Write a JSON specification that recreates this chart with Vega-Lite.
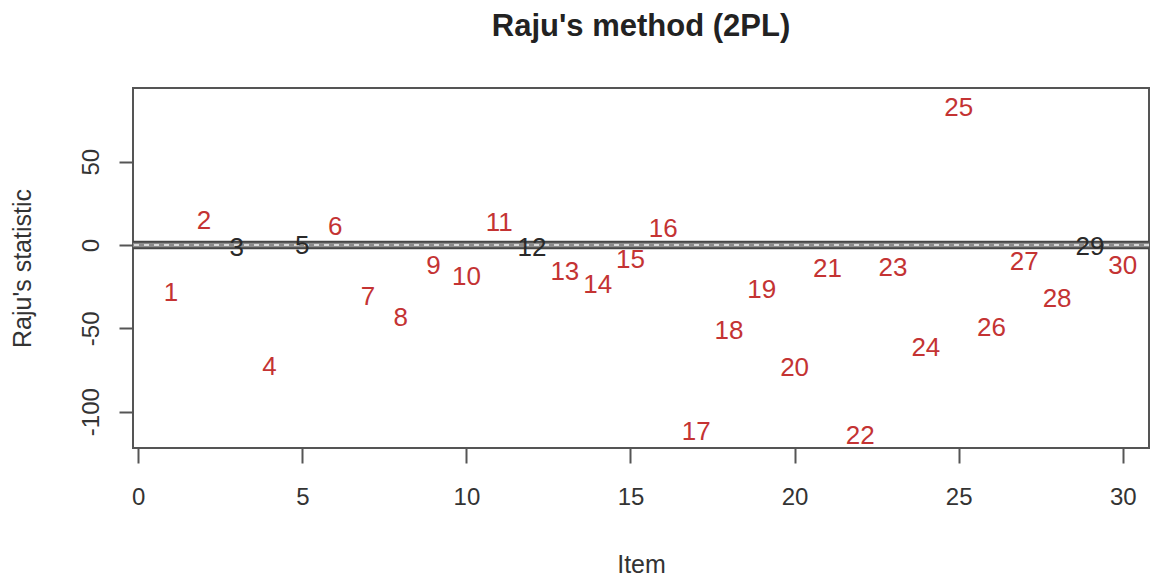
{
  "$schema": "https://vega.github.io/schema/vega-lite/v6.json",
  "autosize": {"type": "none"},
  "width": 1016,
  "height": 360,
  "padding": {"left": 133, "top": 88, "right": 1, "bottom": 128},
  "background": "white",
  "title": {
    "text": "Raju's method (2PL)",
    "font": "Liberation Sans",
    "fontSize": 31,
    "fontWeight": "bold",
    "color": "#222",
    "anchor": "middle",
    "baseline": "alphabetic",
    "offset": 21
  },
  "config": {
    "view": {"stroke": "#555", "strokeWidth": 2},
    "font": "Liberation Sans",
    "axis": {
      "grid": false,
      "domain": false,
      "tickColor": "#555",
      "tickWidth": 2,
      "labelFont": "Liberation Sans",
      "labelFontSize": 24,
      "labelColor": "#333",
      "titleFont": "Liberation Sans",
      "titleFontSize": 25,
      "titleFontWeight": "normal",
      "titleColor": "#333"
    }
  },
  "datasets": {
    "items": [
      {"item": 1, "stat": -28.8, "flag": "DIF"},
      {"item": 2, "stat": 14.4, "flag": "DIF"},
      {"item": 3, "stat": -1.8, "flag": "noDIF"},
      {"item": 4, "stat": -73.2, "flag": "DIF"},
      {"item": 5, "stat": -0.6, "flag": "noDIF"},
      {"item": 6, "stat": 10.8, "flag": "DIF"},
      {"item": 7, "stat": -31.2, "flag": "DIF"},
      {"item": 8, "stat": -43.8, "flag": "DIF"},
      {"item": 9, "stat": -12.6, "flag": "DIF"},
      {"item": 10, "stat": -19.2, "flag": "DIF"},
      {"item": 11, "stat": 13.2, "flag": "DIF"},
      {"item": 12, "stat": -1.8, "flag": "noDIF"},
      {"item": 13, "stat": -16.2, "flag": "DIF"},
      {"item": 14, "stat": -24.0, "flag": "DIF"},
      {"item": 15, "stat": -9.0, "flag": "DIF"},
      {"item": 16, "stat": 9.6, "flag": "DIF"},
      {"item": 17, "stat": -112.2, "flag": "DIF"},
      {"item": 18, "stat": -51.6, "flag": "DIF"},
      {"item": 19, "stat": -27.0, "flag": "DIF"},
      {"item": 20, "stat": -73.8, "flag": "DIF"},
      {"item": 21, "stat": -14.4, "flag": "DIF"},
      {"item": 22, "stat": -114.6, "flag": "DIF"},
      {"item": 23, "stat": -13.8, "flag": "DIF"},
      {"item": 24, "stat": -61.8, "flag": "DIF"},
      {"item": 25, "stat": 82.2, "flag": "DIF"},
      {"item": 26, "stat": -49.8, "flag": "DIF"},
      {"item": 27, "stat": -10.2, "flag": "DIF"},
      {"item": 28, "stat": -32.4, "flag": "DIF"},
      {"item": 29, "stat": -1.2, "flag": "noDIF"},
      {"item": 30, "stat": -12.6, "flag": "DIF"}
    ],
    "thr": [{"upper": 1.96, "lower": -1.96, "zero": 0}]
  },
  "layer": [
    {
      "data": {"name": "thr"},
      "mark": {"type": "rect", "color": "#8a8a8a"},
      "encoding": {
        "y": {"field": "upper", "type": "quantitative",
          "scale": {"domain": [-121.8, 94.2], "nice": false, "zero": false},
          "axis": {"values": [-100, -50, 0, 50], "title": "Raju's statistic", "tickSize": 14, "labelPadding": 21,
            "labelAngle": -90, "labelAlign": "center", "labelBaseline": "alphabetic",
            "labelExpr": "replace(datum.label, '\u2212', '-')",
            "titleBaseline": "alphabetic", "titleX": -103, "titleAngle": -90}},
        "y2": {"field": "lower"}
      }
    },
    {
      "data": {"name": "thr"},
      "mark": {"type": "rule", "color": "#444", "strokeWidth": 2},
      "encoding": {"y": {"field": "upper", "type": "quantitative"}}
    },
    {
      "data": {"name": "thr"},
      "mark": {"type": "rule", "color": "#444", "strokeWidth": 2},
      "encoding": {"y": {"field": "lower", "type": "quantitative"}}
    },
    {
      "data": {"name": "thr"},
      "mark": {"type": "rule", "color": "#f4f4f4", "strokeWidth": 1.5, "strokeDash": [5, 5]},
      "encoding": {"y": {"field": "zero", "type": "quantitative"}}
    },
    {
      "data": {"name": "items"},
      "mark": {"type": "text", "font": "Liberation Sans", "fontSize": 26, "align": "center", "baseline": "middle"},
      "encoding": {
        "x": {"field": "item", "type": "quantitative",
          "scale": {"domain": [-0.16, 30.8], "nice": false, "zero": false},
          "axis": {"values": [0, 5, 10, 15, 20, 25, 30], "title": "Item", "tickSize": 15, "labelPadding": 22,
            "titleBaseline": "alphabetic", "titleY": 124}},
        "y": {"field": "stat", "type": "quantitative"},
        "text": {"field": "item", "type": "nominal"},
        "color": {"field": "flag", "type": "nominal",
          "scale": {"domain": ["DIF", "noDIF"], "range": ["#c43333", "#2a2a2a"]}, "legend": null}
      }
    }
  ]
}
